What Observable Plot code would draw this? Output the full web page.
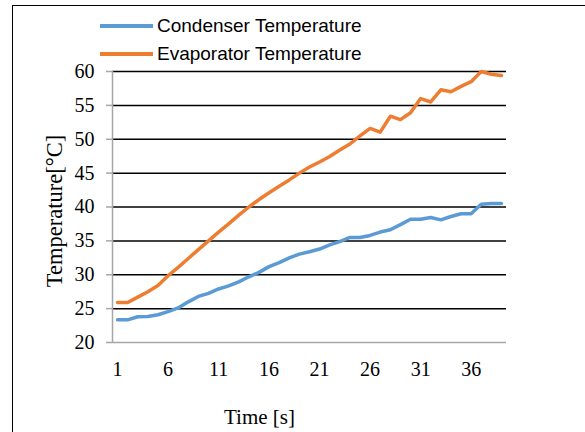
<!DOCTYPE html>
<html>
<head>
<meta charset="utf-8">
<script src="https://cdn.jsdelivr.net/npm/d3@7"></script>
<script src="https://cdn.jsdelivr.net/npm/@observablehq/plot@0.6"></script>
<style>
  html, body { margin: 0; padding: 0; background: #fff; overflow: hidden; }
  #wrap { position: relative; width: 585px; height: 432px; }
  #box { position: absolute; left: 12px; top: 5px; width: 700px; height: 600px;
         border-left: 1.5px solid #000; border-top: 1.5px solid #000; pointer-events: none; }
  #legend { position: relative; height: 62px; font-family: "Liberation Sans", Arial, sans-serif; font-size: 19px; color: #000; }
  .item { position: absolute; left: 100px; display: flex; align-items: center; height: 20px; }
  .swatch { width: 53px; height: 4px; margin-right: 4px; }
  #chart svg { display: block; }
</style>
</head>
<body>
<div id="wrap">
  <div id="box"></div>
  <div id="legend"></div>
  <div id="chart"></div>
</div>
<script>
const seriesNames = ["Condenser Temperature", "Evaporator Temperature"];
const seriesColors = ["#5B9BD5", "#ED7D31"];
const timeSteps = d3.range(1, 40);
const condenser = [23.35, 23.35, 23.8, 23.85, 24.1, 24.55, 25.1, 26.0, 26.8, 27.25,
  27.9, 28.35, 28.95, 29.7, 30.35, 31.2, 31.8, 32.5, 33.05, 33.4,
  33.8, 34.4, 34.9, 35.5, 35.5, 35.8, 36.3, 36.65, 37.4, 38.2,
  38.2, 38.45, 38.1, 38.6, 39.0, 39.0, 40.4, 40.5, 40.5];
const evaporator = [25.9, 25.9, 26.7, 27.5, 28.4, 29.85, 31.1, 32.4, 33.7, 35.0,
  36.3, 37.5, 38.8, 40.0, 41.1, 42.1, 43.05, 44.0, 45.0, 45.9,
  46.65, 47.45, 48.4, 49.3, 50.5, 51.6, 51.05, 53.4, 52.9, 53.9,
  56.0, 55.5, 57.3, 57.0, 57.8, 58.5, 60.0, 59.6, 59.4];
const xTicks = [1, 6, 11, 16, 21, 26, 31, 36];
const yTicks = [20, 25, 30, 35, 40, 45, 50, 55, 60];
const xDomain = [0.5, 39.5];
const xLabel = "Time [s]";
const yLabel = "Temperature[°C]";

// legend
const legend = document.getElementById("legend");
seriesNames.forEach((name, i) => {
  const it = document.createElement("div");
  it.className = "item";
  it.style.top = (16 + i * 28) + "px";
  const sw = document.createElement("div");
  sw.className = "swatch";
  sw.style.background = seriesColors[i];
  const tx = document.createElement("span");
  tx.textContent = name;
  it.appendChild(sw); it.appendChild(tx);
  legend.appendChild(it);
});

const rows = (vals, s) => vals.map((v, i) => ({t: timeSteps[i], v, s}));
const cond = rows(condenser, seriesNames[0]);
const evap = rows(evaporator, seriesNames[1]);

const chart = Plot.plot({
  width: 585,
  height: 370,
  marginLeft: 112,
  marginRight: 79,
  marginTop: 9,
  marginBottom: 90,
  x: {domain: xDomain},
  y: {domain: [yTicks[0], yTicks[yTicks.length - 1]]},
  style: {fontFamily: "'Liberation Serif', 'Times New Roman', serif", fontSize: "20px", color: "#000", background: "transparent", overflow: "visible"},
  marks: [
    Plot.gridY(yTicks.slice(1), {stroke: "#000", strokeOpacity: 1, strokeWidth: 1.5}),
    Plot.ruleY([yTicks[0]], {stroke: "#a6a6a6", strokeWidth: 1.5}),
    Plot.ruleX([xDomain[0]], {stroke: "#a6a6a6", strokeWidth: 1.5}),
    Plot.axisY({ticks: yTicks, tickSize: 6, tickPadding: 12, stroke: "#a6a6a6", strokeWidth: 1.5, label: null, fontSize: 20}),
    Plot.axisX({ticks: xTicks, tickSize: 0, tickPadding: 19, label: null, tickFormat: d => String(d), fontSize: 20}),
    Plot.line(cond, {x: "t", y: "v", stroke: seriesColors[0], strokeWidth: 3.5}),
    Plot.line(evap, {x: "t", y: "v", stroke: seriesColors[1], strokeWidth: 3.5}),
    Plot.text([xLabel], {text: d => d, frameAnchor: "bottom", dx: -50, dy: 75, fontSize: 21, lineAnchor: "middle", textAnchor: "middle"}),
    Plot.text([yLabel], {text: d => d, frameAnchor: "left", rotate: -90, dx: -58, dy: 4, fontSize: 22.5, lineAnchor: "middle", textAnchor: "middle"})
  ]
});
document.getElementById("chart").appendChild(chart);
</script>
</body>
</html>
